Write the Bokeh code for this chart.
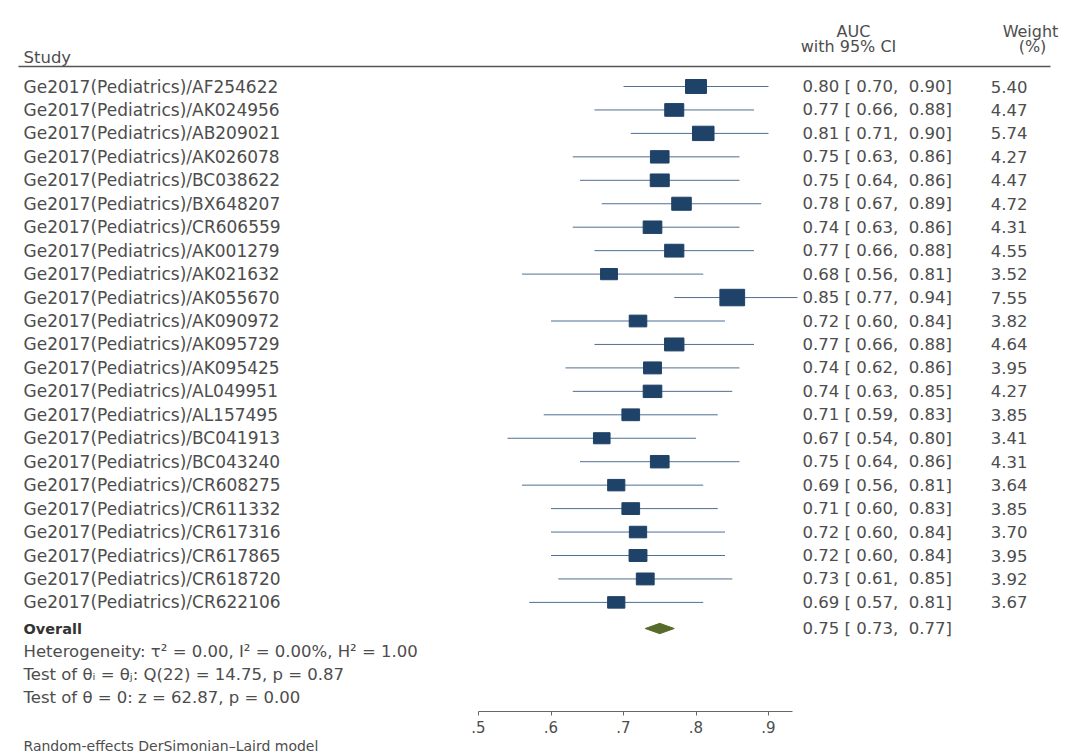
from bokeh.plotting import figure
from bokeh.models import ColumnDataSource, Range1d, LinearAxis, FixedTicker
from bokeh.core.properties import value
from bokeh.embed import file_html
from bokeh.resources import INLINE
import numpy as np

# ---------------- data ----------------
studies = [
    "Ge2017(Pediatrics)/AF254622", "Ge2017(Pediatrics)/AK024956", "Ge2017(Pediatrics)/AB209021",
    "Ge2017(Pediatrics)/AK026078", "Ge2017(Pediatrics)/BC038622", "Ge2017(Pediatrics)/BX648207",
    "Ge2017(Pediatrics)/CR606559", "Ge2017(Pediatrics)/AK001279", "Ge2017(Pediatrics)/AK021632",
    "Ge2017(Pediatrics)/AK055670", "Ge2017(Pediatrics)/AK090972", "Ge2017(Pediatrics)/AK095729",
    "Ge2017(Pediatrics)/AK095425", "Ge2017(Pediatrics)/AL049951", "Ge2017(Pediatrics)/AL157495",
    "Ge2017(Pediatrics)/BC041913", "Ge2017(Pediatrics)/BC043240", "Ge2017(Pediatrics)/CR608275",
    "Ge2017(Pediatrics)/CR611332", "Ge2017(Pediatrics)/CR617316", "Ge2017(Pediatrics)/CR617865",
    "Ge2017(Pediatrics)/CR618720", "Ge2017(Pediatrics)/CR622106",
]
auc = [0.80, 0.77, 0.81, 0.75, 0.75, 0.78, 0.74, 0.77, 0.68, 0.85, 0.72, 0.77,
       0.74, 0.74, 0.71, 0.67, 0.75, 0.69, 0.71, 0.72, 0.72, 0.73, 0.69]
ci_low = [0.70, 0.66, 0.71, 0.63, 0.64, 0.67, 0.63, 0.66, 0.56, 0.77, 0.60, 0.66,
          0.62, 0.63, 0.59, 0.54, 0.64, 0.56, 0.60, 0.60, 0.60, 0.61, 0.57]
ci_high = [0.90, 0.88, 0.90, 0.86, 0.86, 0.89, 0.86, 0.88, 0.81, 0.94, 0.84, 0.88,
           0.86, 0.85, 0.83, 0.80, 0.86, 0.81, 0.83, 0.84, 0.84, 0.85, 0.81]
weights = [5.40, 4.47, 5.74, 4.27, 4.47, 4.72, 4.31, 4.55, 3.52, 7.55, 3.82, 4.64,
           3.95, 4.27, 3.85, 3.41, 4.31, 3.64, 3.85, 3.70, 3.95, 3.92, 3.67]
overall_auc = 0.75
overall_low = 0.73
overall_high = 0.77
stats_lines = [
    "Heterogeneity: \u03c4\u00b2 = 0.00, I\u00b2 = 0.00%, H\u00b2 = 1.00",
    "Test of \u03b8\u1d62 = \u03b8\u2c7c: Q(22) = 14.75, p = 0.87",
    "Test of \u03b8 = 0: z = 62.87, p = 0.00",
]
tick_values = [0.5, 0.6, 0.7, 0.8, 0.9]
tick_labels = [".5", ".6", ".7", ".8", ".9"]
footnote = "Random-effects DerSimonian\u2013Laird model"

# ---------------- layout helpers ----------------
W, H = 1060, 752
OFF = 0.0        # page offset of the canvas
PX0 = 478.0      # page x of AUC 0.5
PXU = 725.0      # page px per AUC unit
ROW0 = 86.0      # page y of first row
ROWH = 23.45     # page px per row
NB = "\u00a0"


def xd(px):
    return 0.5 + (px - PX0) / PXU


def yd(py):
    return (py - ROW0) / ROWH


def fmt_ci(a, l, h):
    return f"{a:.2f} [{NB}{l:.2f},{NB}{NB}{h:.2f}]"


FONT = value("DejaVu Sans")
TXT = "#4d4d4d"
n = len(studies)
rows = list(range(n))

p = figure(width=W, height=H, output_backend="svg", toolbar_location=None,
           x_range=Range1d(xd(OFF), xd(OFF + W)), y_range=Range1d(yd(OFF + H), yd(OFF)),
           x_axis_location=None, y_axis_location=None, min_border=0,
           outline_line_color=None)
p.grid.visible = False

src = ColumnDataSource(dict(
    y=rows, study=studies, auc=auc, lo=ci_low, hi=ci_high, w=weights,
    bw=[9.0 * np.sqrt(v) for v in weights], bh=[6.0 * np.sqrt(v) for v in weights],
    ci=[fmt_ci(a, l, h) for a, l, h in zip(auc, ci_low, ci_high)],
    wt=[f"{v:.2f}" for v in weights],
))

# CI lines and weighted boxes
p.segment(x0="lo", x1="hi", y0="y", y1="y", source=src, line_color="#4f6f93", line_width=1)
p.rect(x="auc", y="y", width="bw", height="bh", width_units="screen", height_units="screen",
       source=src, fill_color="#1f4268", line_color="#1f4268")

# overall diamond
oy = yd(628)
dh = 0.22
p.patch(x=[overall_low, overall_auc, overall_high, overall_auc],
        y=[oy, oy - dh, oy, oy + dh], fill_color="#586b2a", line_color="#586b2a")

# study labels and numbers
p.text(x=xd(23), y="y", text="study", source=src, text_font=FONT, text_font_size="17px",
       text_color=TXT, text_baseline="middle", text_align="left")
p.text(x=xd(802), y="y", text="ci", source=src, text_font=FONT, text_font_size="16.5px",
       text_color=TXT, text_baseline="middle", text_align="left")
p.text(x=xd(1027), y="y", text="wt", source=src, text_font=FONT, text_font_size="16.5px",
       text_color=TXT, text_baseline="middle", text_align="right")

# headers
p.text(x=[xd(23)], y=[yd(57)], text=["Study"], text_font=FONT, text_font_size="16.5px",
       text_color=TXT, text_baseline="middle", text_align="left")
p.text(x=[xd(853), xd(848), xd(1030), xd(1032)], y=[yd(31), yd(46), yd(31), yd(46)],
       text=["AUC", "with 95% CI", "Weight", "(%)"], text_font=FONT, text_font_size="16px",
       text_color=TXT, text_baseline="middle", text_align="center")
p.segment(x0=[xd(18)], x1=[xd(1050)], y0=[yd(66)], y1=[yd(66)], line_color="#555555", line_width=1.5)

# overall row
p.text(x=[xd(23)], y=[oy], text=["Overall"], text_font=FONT, text_font_size="14.5px",
       text_font_style="bold", text_color="#333333", text_baseline="middle", text_align="left")
p.text(x=[xd(802)], y=[oy], text=[fmt_ci(overall_auc, overall_low, overall_high)],
       text_font=FONT, text_font_size="16.5px", text_color=TXT, text_baseline="middle",
       text_align="left")

# heterogeneity / tests
p.text(x=[xd(23)] * 3, y=[yd(651), yd(674), yd(697)], text=stats_lines, text_font=FONT,
       text_font_size="16.5px", text_color=TXT, text_baseline="middle", text_align="left")

# footnote
p.text(x=[xd(23)], y=[yd(745)], text=[footnote], text_font=FONT, text_font_size="14px",
       text_color=TXT, text_baseline="middle", text_align="left")

# x axis placed inside the plot
ax = LinearAxis(fixed_location=yd(711), bounds=(0.5, xd(792)),
                ticker=FixedTicker(ticks=tick_values),
                major_label_overrides={v: l for v, l in zip(tick_values, tick_labels)})
ax.axis_line_color = "#666666"
ax.major_tick_line_color = "#666666"
ax.major_tick_out = 4
ax.major_tick_in = 0
ax.minor_tick_line_color = None
ax.major_label_text_font = "DejaVu Sans"
ax.major_label_text_font_size = "15px"
ax.major_label_text_color = TXT
p.add_layout(ax, "below")

open("out.html", "w").write(file_html(p, INLINE))
